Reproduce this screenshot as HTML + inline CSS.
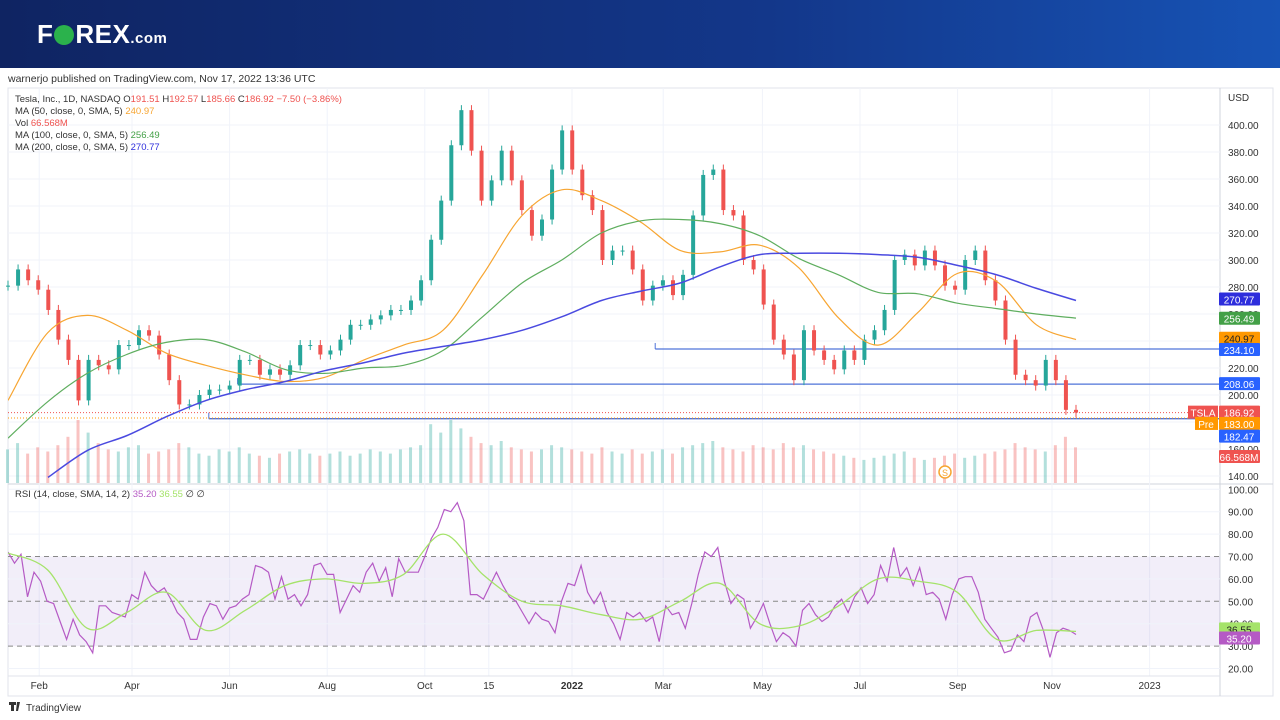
<!DOCTYPE html>
<html><head><meta charset="utf-8">
<style>
body{margin:0;width:1280px;height:720px;overflow:hidden;background:#fff;font-family:"Liberation Sans",sans-serif;}
#hdr{position:absolute;left:0;top:0;width:1280px;height:68px;background:linear-gradient(90deg,#0f2462,#13378a 60%,#1753b5);}
#logo{position:absolute;left:37px;top:19px;color:#fff;font-weight:bold;font-size:26px;letter-spacing:0.5px}
#logo span.o{display:inline-block;width:20px;height:20px;border-radius:50%;background:#2bb24c;vertical-align:-2px;margin:0 1px}
#logo span.c{font-size:15px}
#pub{position:absolute;left:8px;top:73px;font-size:10.5px;color:#333}
svg{position:absolute;left:0;top:0}
</style></head><body>
<div id="hdr"><div id="logo">F<span class="o"></span>REX<span class="c">.com</span></div></div>
<div id="pub">warnerjo published on TradingView.com, Nov 17, 2022 13:36 UTC</div>
<svg id="chart" width="1280" height="720"></svg>
<script>
const closes=[281,293,285,278,263,241,226,196,226,222,219,237,237,248,244,230,211,193,193,200,204,204,207,226,226,215,219,215,222,237,237,230,233,241,252,252,256,259,263,263,270,285,315,344,385,411,381,344,359,381,359,337,318,330,367,396,367,348,337,300,307,307,293,270,281,285,274,289,333,363,367,337,333,300,293,267,241,230,211,248,233,226,219,233,226,241,248,263,300,304,296,307,296,281,278,300,307,285,270,241,215,211,207,226,211,189,187];
const volumes=[80,95,70,85,75,90,110,150,120,95,80,75,85,90,70,75,80,95,85,70,65,80,75,85,70,65,60,70,75,80,70,65,70,75,65,70,80,75,70,80,85,90,140,120,150,130,110,95,90,100,85,80,75,80,90,85,80,75,70,85,75,70,80,70,75,80,70,85,90,95,100,85,80,75,90,85,80,95,85,90,80,75,70,65,60,55,60,65,70,75,60,55,60,65,70,60,65,70,75,80,95,85,80,75,90,110,85];
const ma50=[196,246,259,248,231,222,215,210,213,226,237,248,289,333,352,344,328,307,306,311,294,257,237,261,290,284,252,241];
const ma100=[168,195,216,230,239,241,232,219,216,220,222,233,258,283,300,320,329,330,327,318,301,289,276,275,268,264,260,257];
const ma200=[139,159,170,184,196,204,210,218,224,231,236,241,248,258,270,277,283,295,304,305,305,304,302,296,289,279,270];
const rsi=[72,67,71,52,63,59,50,49,41,33,42,35,32,27,48,48,45,44,43,53,51,63,57,54,56,51,45,42,33,33,43,49,48,42,47,48,51,53,66,65,63,51,61,51,53,48,53,66,67,62,62,45,51,57,54,63,67,59,65,52,69,63,63,63,70,78,83,91,90,94,86,53,53,51,57,63,57,52,50,45,40,45,42,41,36,50,58,57,66,54,49,54,45,40,33,45,43,45,41,43,32,48,44,45,38,49,62,72,70,74,59,49,53,51,38,43,49,40,32,36,34,30,46,49,44,41,43,48,51,45,52,56,49,53,66,59,74,61,65,57,65,53,54,51,42,53,60,61,61,54,42,38,34,27,28,35,32,43,45,37,25,36,38,37,35.2];
const rsiSma=[71.5,64,38,45,54,37,46,57,60,58,62,80,62,50,48,44,42,50,58,40,39,48,60,59,54,33,37,36.55];
const priceTicks=[400,380,360,340,320,300,280,260,240,220,200,180,160,140];
const rsiTicks=[100,90,80,70,60,50,40,30,20];
const monthLabels=["Feb","Apr","Jun","Aug","Oct","15","2022","Mar","May","Jul","Sep","Nov","2023"];
const monthDays=[32,90,151,212,273,313,365,422,484,545,606,665,726];
const levels=[234.10,208.06,182.47];
const levelStartDays=[417,156,138];

const S=document.getElementById('chart');const NS='http://www.w3.org/2000/svg';
function mk(t,a,p){const e=document.createElementNS(NS,t);for(const k in a)e.setAttribute(k,a[k]);(p||S).appendChild(e);return e;}
const X0=8,X1=1076,PL=1220;
const py=p=>260-(p-300)*1.35;
const ry=r=>556.5-(r-70)*2.24;
const dx=d=>-12+d*1.6;
const sx=(i,n)=>X0+i*(X1-X0)/(n-1);
const cp=mk('clipPath',{id:'pc'});mk('rect',{x:8,y:88,width:1212,height:396},cp);
const cr=mk('clipPath',{id:'rc'});mk('rect',{x:8,y:485,width:1212,height:191},cr);
mk('rect',{x:8,y:88,width:1265,height:608,fill:'none',stroke:'#e0e3eb'});
mk('line',{x1:PL,y1:88,x2:PL,y2:696,stroke:'#d1d4dc'});
mk('line',{x1:8,y1:484,x2:1273,y2:484,stroke:'#d1d4dc'});
priceTicks.forEach(t=>{const y=py(t);const l=mk('line',{x1:8,y1:y,x2:PL,y2:y,stroke:'#f0f3fa'});
const tx=mk('text',{x:1228,y:y+4,'font-size':10,fill:'#333'});tx.textContent=t.toFixed(2);});
monthDays.forEach((d,i)=>{const x=dx(d);mk('line',{x1:x,y1:88,x2:x,y2:676,stroke:'#f0f3fa'});
const tx=mk('text',{x:x,y:689,'font-size':10,fill:'#333','text-anchor':'middle','font-weight':monthLabels[i]=='2022'?'bold':'normal'});tx.textContent=monthLabels[i];});
mk('line',{x1:8,y1:676,x2:PL,y2:676,stroke:'#e0e3eb'});
let u=mk('text',{x:1228,y:101,'font-size':10,fill:'#333'});u.textContent='USD';
mk('rect',{x:8,y:ry(70),width:PL-8,height:ry(30)-ry(70),fill:'#7e57c2','fill-opacity':0.1});
[70,50,30].forEach(v=>mk('line',{x1:8,y1:ry(v),x2:PL,y2:ry(v),stroke:'#888','stroke-dasharray':'5,4'}));
rsiTicks.forEach(t=>{const y=ry(t);if(t!=70&&t!=50&&t!=30)mk('line',{x1:8,y1:y,x2:PL,y2:y,stroke:'#f0f3fa'});
const tx=mk('text',{x:1228,y:y+4,'font-size':10,fill:'#333'});tx.textContent=t.toFixed(2);});
volumes.forEach((v,i)=>{const x=sx(i,volumes.length);const up=i==0||closes[i]>=closes[i-1];const h=v*0.42;
const b=mk('rect',{x:x-2,y:483-h,width:3,height:h,fill:up?'#26a69a':'#ef5350','fill-opacity':0.35});
});
levels.forEach((lv,i)=>{const l=mk('line',{x1:dx(levelStartDays[i]),y1:py(lv),x2:PL,y2:py(lv),stroke:'#4f73d9','stroke-width':1.3});
mk('line',{x1:dx(levelStartDays[i]),y1:py(lv),x2:dx(levelStartDays[i]),y2:py(lv)-6,stroke:'#4f73d9'});});
mk('line',{x1:8,y1:py(186.92),x2:PL,y2:py(186.92),stroke:'#ef5350','stroke-dasharray':'1,2'});
mk('line',{x1:8,y1:py(183),x2:PL,y2:py(183),stroke:'#ff9800','stroke-dasharray':'1,2'});
closes.forEach((c,i)=>{const x=sx(i,closes.length);const o=i?closes[i-1]:c;const up=c>=o;const col=up?'#26a69a':'#ef5350';
const top=py(Math.max(o,c)),bot=py(Math.min(o,c));
mk('line',{x1:x,y1:top-5,x2:x,y2:bot+5,stroke:col});
const b=mk('rect',{x:x-2,y:top,width:4,height:Math.max(1,bot-top),fill:col});
});
function line(arr,x0,x1,yf,col,name,w,clip,smooth){
const P=arr.map((v,i)=>[x0+i*(x1-x0)/(arr.length-1),yf(v)]);
let d='M'+P[0][0].toFixed(1)+','+P[0][1].toFixed(1);
for(let i=1;i<P.length;i++){
 if(!smooth){d+='L'+P[i][0].toFixed(1)+','+P[i][1].toFixed(1);continue;}
 const p0=P[Math.max(0,i-2)],p1=P[i-1],p2=P[i],p3=P[Math.min(P.length-1,i+1)];
 const c1x=p1[0]+(p2[0]-p0[0])/6,c1y=p1[1]+(p2[1]-p0[1])/6,c2x=p2[0]-(p3[0]-p1[0])/6,c2y=p2[1]-(p3[1]-p1[1])/6;
 d+='C'+c1x.toFixed(1)+','+c1y.toFixed(1)+' '+c2x.toFixed(1)+','+c2y.toFixed(1)+' '+p2[0].toFixed(1)+','+p2[1].toFixed(1);}
const p=mk('path',{d:d,fill:'none',stroke:col,'stroke-width':w||1.2,'clip-path':'url(#'+clip+')'});return p;}
line(ma50,8,1076,py,'#f7a531','ma50-line',1.2,'pc',true);
line(ma100,8,1076,py,'#5fae5f','ma100-line',1.2,'pc',true);
line(ma200,48,1076,py,'#4a4ae0','ma200-line',1.5,'pc',true);
line(rsi,8,1076,ry,'#b55ac5','rsi-line',1.2,'rc',false);
line(rsiSma,8,1076,ry,'#a5e36a','rsi-sma-line',1.3,'rc',true);
function tag(v,y,bg,name,fg){const r=mk('rect',{x:1219,y:y-7,width:41,height:13,fill:bg,rx:1});
const t=mk('text',{x:1239,y:y+4,'font-size':10,fill:fg||'#fff','text-anchor':'middle'});t.textContent=v;}
tag('270.77',py(270.77),'#2d2ddc','ma200-value-tag');tag('256.49',py(256.49),'#43a047','ma100-value-tag');
tag('240.97',py(240.97)-1,'#ff9800','ma50-value-tag','#222');tag('234.10',py(234.10)+1,'#2962ff','level-234-tag');
tag('208.06',py(208.06),'#2962ff','level-208-tag');tag('186.92',py(186.92),'#ef5350','last-price-tag');
tag('183.00',py(183)+6,'#ff9800','premarket-tag');tag('182.47',py(182.47)+18,'#2962ff','level-182-tag');tag('66.568M',457,'#ef5350','volume-value-tag');
mk('rect',{x:1188,y:py(186.92)-7,width:30,height:13,fill:'#ef5350'});let t1=mk('text',{x:1203,y:py(186.92)+4,'font-size':10,fill:'#fff','text-anchor':'middle'});t1.textContent='TSLA';
mk('rect',{x:1195,y:py(183)-1,width:23,height:13,fill:'#ff9800'});let t2=mk('text',{x:1206,y:py(183)+10,'font-size':10,fill:'#fff','text-anchor':'middle'});t2.textContent='Pre';
mk('circle',{cx:945,cy:472,r:6,fill:'#fff',stroke:'#f7a531','stroke-width':1.5});
let st=mk('text',{x:945,y:476,'font-size':9,fill:'#f7a531','text-anchor':'middle'});st.textContent='S';
function leg(y,parts,name){const t=mk('text',{x:15,y:y,'font-size':9.5,fill:'#333'});
parts.forEach(p=>{const s=mk('tspan',{fill:p[1]||'#333'},t);s.textContent=p[0];});}
leg(102,[['Tesla, Inc., 1D, NASDAQ  O'],['191.51','#ef5350'],['  H'],['192.57','#ef5350'],['  L'],['185.66','#ef5350'],['  C'],['186.92','#ef5350'],['  −7.50 (−3.86%)','#ef5350']],'ohlc-legend');
leg(114,[['MA (50, close, 0, SMA, 5)  '],['240.97','#f7a531']],'ma50-legend');
leg(126,[['Vol  '],['66.568M','#ef5350']],'volume-legend');
leg(138,[['MA (100, close, 0, SMA, 5)  '],['256.49','#43a047']],'ma100-legend');
leg(150,[['MA (200, close, 0, SMA, 5)  '],['270.77','#2d2ddc']],'ma200-legend');
leg(497,[['RSI (14, close, SMA, 14, 2)  '],['35.20','#b55ac5'],['  '],['36.55','#a5e36a'],['  ∅  ∅']],'rsi-legend');
tag('36.55',ry(36.55)-2,'#a5e36a','rsi-sma-tag','#222');tag('35.20',ry(35.2)+4,'#b55ac5','rsi-value-tag');
let tv=mk('text',{x:26,y:711,'font-size':10,fill:'#333'});tv.textContent='TradingView';
mk('path',{d:'M9,702h7v3h-2v6h-3v-6h-2zM17,702h3l-2,9h-2z',fill:'#333'});
</script>
</body></html>
